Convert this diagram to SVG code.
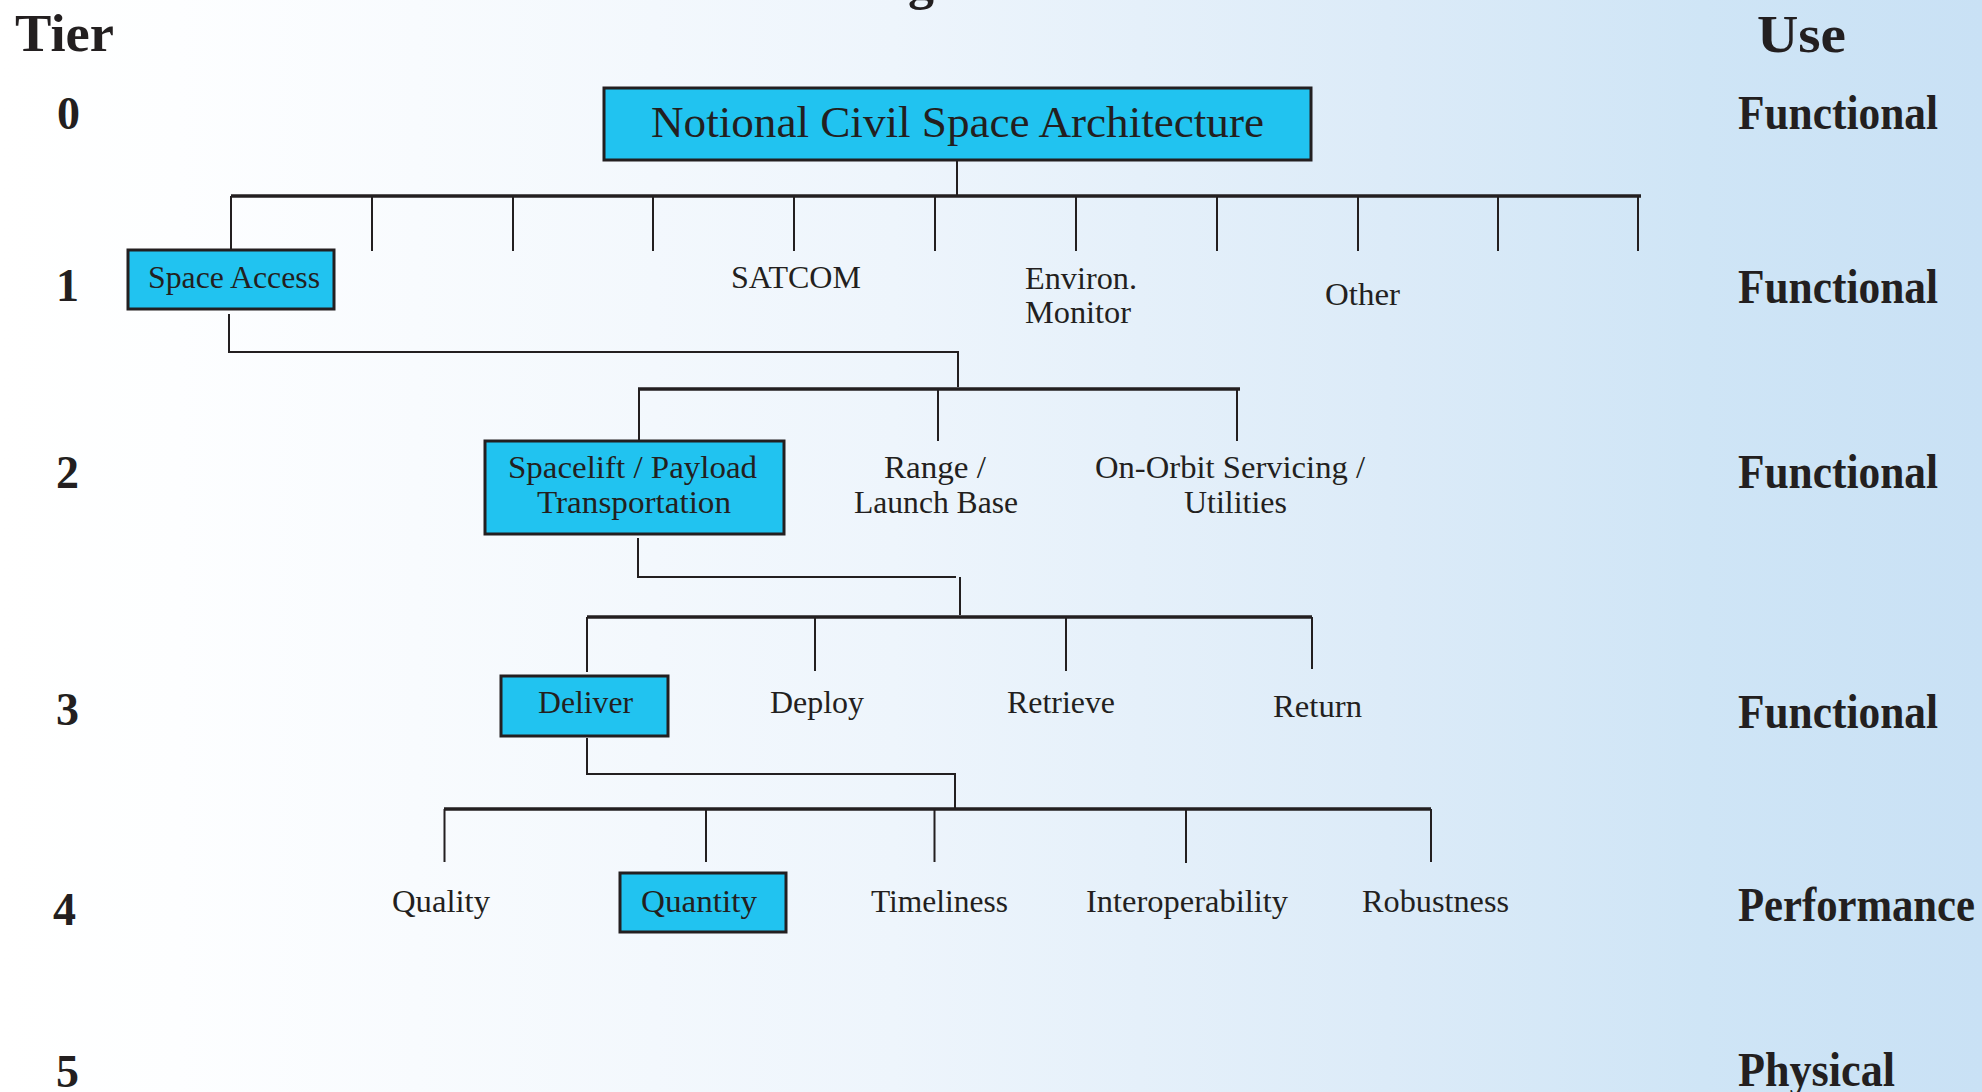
<svg xmlns="http://www.w3.org/2000/svg" width="1982" height="1092" viewBox="0 0 1982 1092">
<defs>
<linearGradient id="bg" x1="0" y1="0" x2="1" y2="0">
<stop offset="0" stop-color="#ffffff"/>
<stop offset="0.09" stop-color="#fdfeff"/>
<stop offset="0.45" stop-color="#eef5fc"/>
<stop offset="0.7" stop-color="#dcebf8"/>
<stop offset="0.86" stop-color="#cfe5f6"/>
<stop offset="1" stop-color="#c9e1f5"/>
</linearGradient>
<style>
.box{fill:#21c3f0;stroke:#231f20;stroke-width:3}
.lbl{font-family:"Liberation Serif","DejaVu Serif",serif;font-size:32px;fill:#231f20}
.title{font-family:"Liberation Serif","DejaVu Serif",serif;font-size:44px;fill:#231f20}
.hdr{font-family:"Liberation Serif","DejaVu Serif",serif;font-size:52px;font-weight:bold;fill:#231f20}
.num{font-family:"Liberation Serif","DejaVu Serif",serif;font-size:46px;font-weight:bold;fill:#231f20}
.use{font-family:"Liberation Serif","DejaVu Serif",serif;font-size:48px;font-weight:bold;fill:#231f20}
.ln{fill:none;stroke:#231f20;stroke-width:2}
.bus{fill:none;stroke:#231f20;stroke-width:3.5}
</style>
</defs>
<rect x="0" y="0" width="1982" height="1092" fill="url(#bg)"/>

<text class="hdr" x="921" y="-1" text-anchor="middle" font-size="64" font-weight="normal">g</text>

<g id="headers">
<text class="hdr" x="15" y="51" textLength="99" lengthAdjust="spacingAndGlyphs">Tier</text>
<text class="hdr" x="1757" y="52" textLength="89" lengthAdjust="spacingAndGlyphs">Use</text>
</g>

<g id="tiers">
<text class="num" x="57" y="129">0</text>
<text class="num" x="56" y="301">1</text>
<text class="num" x="56" y="488">2</text>
<text class="num" x="56" y="725">3</text>
<text class="num" x="53" y="925">4</text>
<text class="num" x="56" y="1087">5</text>
</g>

<g id="uses">
<text class="use" x="1738" y="129" textLength="200" lengthAdjust="spacingAndGlyphs">Functional</text>
<text class="use" x="1738" y="303" textLength="200" lengthAdjust="spacingAndGlyphs">Functional</text>
<text class="use" x="1738" y="488" textLength="200" lengthAdjust="spacingAndGlyphs">Functional</text>
<text class="use" x="1738" y="728" textLength="200" lengthAdjust="spacingAndGlyphs">Functional</text>
<text class="use" x="1738" y="921" textLength="237" lengthAdjust="spacingAndGlyphs">Performance</text>
<text class="use" x="1738" y="1086" textLength="157" lengthAdjust="spacingAndGlyphs">Physical</text>
</g>

<g id="connectors">
<path class="ln" d="M957 160 V195"/>
<path class="bus" d="M231 196 H1641"/>
<path class="ln" d="M231 196 V250 M372 196 V251 M513 196 V251 M653 196 V251 M794 196 V251 M935 196 V251 M1076 196 V251 M1217 196 V251 M1358 196 V251 M1498 196 V251 M1638 196 V251"/>
<path class="ln" d="M229 314 V352 H958 V387"/>
<path class="bus" d="M638 389 H1240"/>
<path class="ln" d="M639 389 V441 M938 389 V441 M1237 389 V441"/>
<path class="ln" d="M638 538 V577 H956 M960 577 V615"/>
<path class="bus" d="M587 617 H1312"/>
<path class="ln" d="M587 617 V672 M815 617 V671 M1066 617 V671 M1312 617 V669"/>
<path class="ln" d="M587 738 V774 H955 V808"/>
<path class="bus" d="M444 809 H1431"/>
<path class="ln" d="M444.5 809 V862 M706 809 V862 M934.5 809 V862 M1186 809 V863 M1431 809 V862"/>
</g>

<g id="n-root">
<rect class="box" x="604" y="88" width="707" height="72"/>
<text class="title" x="651" y="137" textLength="613" lengthAdjust="spacingAndGlyphs">Notional Civil Space Architecture</text>
</g>

<g id="n-space-access">
<rect class="box" x="128" y="250" width="206" height="59"/>
<text class="lbl" x="148" y="288" textLength="172" lengthAdjust="spacingAndGlyphs">Space Access</text>
</g>
<g id="n-satcom">
<text class="lbl" x="731" y="288" textLength="130" lengthAdjust="spacingAndGlyphs">SATCOM</text>
</g>
<g id="n-environ">
<text class="lbl" x="1025" y="289" textLength="112" lengthAdjust="spacingAndGlyphs">Environ.</text>
<text class="lbl" x="1025" y="323" textLength="106" lengthAdjust="spacingAndGlyphs">Monitor</text>
</g>
<g id="n-other">
<text class="lbl" x="1325" y="305" textLength="75" lengthAdjust="spacingAndGlyphs">Other</text>
</g>

<g id="n-spacelift">
<rect class="box" x="485" y="441" width="299" height="93"/>
<text class="lbl" x="508" y="478" textLength="249" lengthAdjust="spacingAndGlyphs">Spacelift / Payload</text>
<text class="lbl" x="537" y="513" textLength="194" lengthAdjust="spacingAndGlyphs">Transportation</text>
</g>
<g id="n-range">
<text class="lbl" x="884" y="478" textLength="102" lengthAdjust="spacingAndGlyphs">Range /</text>
<text class="lbl" x="854" y="513" textLength="164" lengthAdjust="spacingAndGlyphs">Launch Base</text>
</g>
<g id="n-onorbit">
<text class="lbl" x="1095" y="478" textLength="270" lengthAdjust="spacingAndGlyphs">On-Orbit Servicing /</text>
<text class="lbl" x="1184" y="513" textLength="103" lengthAdjust="spacingAndGlyphs">Utilities</text>
</g>

<g id="n-deliver">
<rect class="box" x="501" y="676" width="167" height="60"/>
<text class="lbl" x="538" y="713" textLength="95" lengthAdjust="spacingAndGlyphs">Deliver</text>
</g>
<g id="n-deploy">
<text class="lbl" x="770" y="713" textLength="94" lengthAdjust="spacingAndGlyphs">Deploy</text>
</g>
<g id="n-retrieve">
<text class="lbl" x="1007" y="713" textLength="108" lengthAdjust="spacingAndGlyphs">Retrieve</text>
</g>
<g id="n-return">
<text class="lbl" x="1273" y="717" textLength="89" lengthAdjust="spacingAndGlyphs">Return</text>
</g>

<g id="n-quality">
<text class="lbl" x="392" y="912" textLength="98" lengthAdjust="spacingAndGlyphs">Quality</text>
</g>
<g id="n-quantity">
<rect class="box" x="620" y="873" width="166" height="59"/>
<text class="lbl" x="641" y="912" textLength="116" lengthAdjust="spacingAndGlyphs">Quantity</text>
</g>
<g id="n-timeliness">
<text class="lbl" x="871" y="912" textLength="137" lengthAdjust="spacingAndGlyphs">Timeliness</text>
</g>
<g id="n-interop">
<text class="lbl" x="1086" y="912" textLength="202" lengthAdjust="spacingAndGlyphs">Interoperability</text>
</g>
<g id="n-robustness">
<text class="lbl" x="1362" y="912" textLength="147" lengthAdjust="spacingAndGlyphs">Robustness</text>
</g>
</svg>
